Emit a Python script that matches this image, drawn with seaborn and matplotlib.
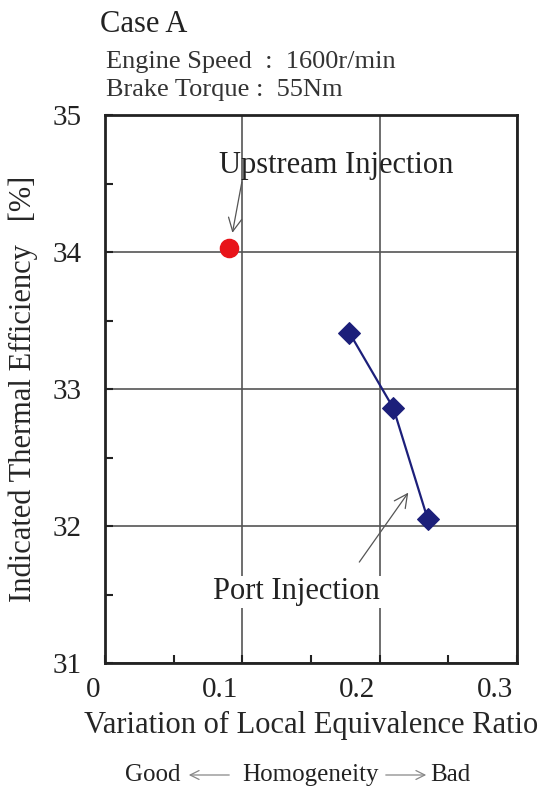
#%% import tools and libraries
import pandas as pd
import seaborn as sb
import matplotlib.pyplot as plt
import matplotlib.transforms as mtrans
from matplotlib.ticker import MultipleLocator

#%% data
upstream_x = [0.090]
upstream_y = [34.03]
port_x = [0.178, 0.210, 0.235]
port_y = [33.41, 32.86, 32.05]
x_ticks = [0, 0.1, 0.2, 0.3]
x_tick_labels = ['0', '0.1', '0.2', '0.3']
y_ticks = [31, 32, 33, 34, 35]

df_up = pd.DataFrame({'x': upstream_x, 'y': upstream_y})
df_port = pd.DataFrame({'x': port_x, 'y': port_y})

sb.set_style('white')
plt.rcParams['font.family'] = ['Liberation Serif', 'DejaVu Serif', 'DejaVu Sans']
plt.rcParams['text.color'] = '#222222'

W, H = 545, 788
fig = plt.figure(figsize=(W / 100, H / 100), dpi=100)
ax = fig.add_axes([105 / W, 1 - 663 / H, 412 / W, 548 / H])

sb.lineplot(data=df_port, x='x', y='y', ax=ax, color='#1c1f7a', lw=1.6,
            marker='D', markersize=11, markeredgecolor='#1c1f7a', zorder=4)
sb.scatterplot(data=df_up, x='x', y='y', ax=ax, color='#e8141a', s=170,
               edgecolor='#e8141a', zorder=5)

ax.set_xlim(0, 0.3)
ax.set_ylim(31, 35)
ax.set_xticks(x_ticks)
ax.set_xticklabels(x_tick_labels, ha='right')
ax.set_yticks(y_ticks)
ax.xaxis.set_minor_locator(MultipleLocator(0.05))
ax.yaxis.set_minor_locator(MultipleLocator(0.5))
ax.tick_params(which='both', direction='in', length=6, width=1.5, colors='#222222',
               labelsize=21, bottom=True, left=True, top=False, right=False)
ax.tick_params(axis='x', pad=10)
ax.tick_params(axis='y', pad=17)
# nudge x tick labels a little to the left
shift = mtrans.ScaledTranslation(-3 / 72, 0, fig.dpi_scale_trans)
for lab in ax.get_xticklabels():
    lab.set_transform(lab.get_transform() + shift)
ax.grid(which='major', color='#555555', lw=1.2)
for sp in ax.spines.values():
    sp.set_color('#222222')
    sp.set_linewidth(2)

ax.set_xlabel('Variation of Local Equivalence Ratio', fontsize=22, labelpad=6)
ax.set_ylabel('Indicated Thermal Efficiency   [%]', fontsize=22, labelpad=10)

# annotations
ax.annotate('', xy=(0.0924, 34.12), xytext=(0.100, 34.53),
            arrowprops=dict(arrowstyle='->', color='#555555', lw=0.9,
                            mutation_scale=24))
ax.text(0.168, 34.635, 'Upstream Injection', fontsize=22, ha='center', va='center')
ax.annotate('', xy=(0.222, 32.26), xytext=(0.184, 31.72),
            arrowprops=dict(arrowstyle='->', color='#555555', lw=0.9,
                            mutation_scale=24))
ax.text(0.139, 31.52, 'Port Injection', fontsize=22, ha='center', va='center',
        bbox=dict(facecolor='white', edgecolor='none', pad=1))

# header
fig.text(100 / W, 1 - 25 / H, 'Case A', fontsize=22, va='center')
fig.text(106 / W, 1 - 62 / H, 'Engine Speed  :  1600r/min', fontsize=19, va='center',
         color='#333333')
fig.text(106 / W, 1 - 90 / H, 'Brake Torque :  55Nm', fontsize=19, va='center',
         color='#333333')

# bottom homogeneity note
yb = 1 - 775 / H
fig.text(125 / W, yb, 'Good', fontsize=18, va='center')
fig.text(242 / W, yb, 'Homogeneity', fontsize=18, va='center')
fig.text(430 / W, yb, 'Bad', fontsize=18, va='center')
ax.annotate('', xy=(186 / W, yb), xytext=(232 / W, yb), xycoords='figure fraction',
            textcoords='figure fraction', annotation_clip=False,
            arrowprops=dict(arrowstyle='->', color='#888888', lw=0.9, mutation_scale=16))
ax.annotate('', xy=(429 / W, yb), xytext=(383 / W, yb), xycoords='figure fraction',
            textcoords='figure fraction', annotation_clip=False,
            arrowprops=dict(arrowstyle='->', color='#888888', lw=0.9, mutation_scale=16))

plt.savefig('out.png', dpi=100)
